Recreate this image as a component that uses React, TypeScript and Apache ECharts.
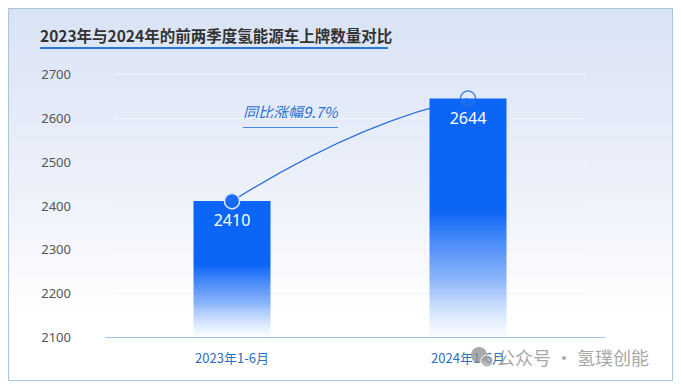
import React, { useEffect, useRef } from "react";
import * as echarts from "echarts";

const categories = ["2023年1-6月", "2024年1-6月"];
const values = [2410, 2644];
const yTicks = { min: 2100, max: 2700, interval: 100 };
const titleText = "2023年与2024年的前两季度氢能源车上牌数量对比";
const growthText = "同比涨幅9.7%";
const watermarkText = "公众号 · 氢璞创能";

const BLUE = "#0b65f6";
const FONT = "'Noto Sans CJK SC', 'Noto Sans', sans-serif";

export default function App() {
  const ref = useRef<HTMLDivElement>(null);
  useEffect(() => {
    if (!ref.current) return;
    const chart = echarts.init(ref.current, null, { renderer: "svg" });
    chart.setOption({
      animation: false,
      textStyle: { fontFamily: FONT },
      grid: { left: 114, right: 95, top: 74, bottom: 51 },
      xAxis: {
        type: "category",
        data: categories,
        axisLine: { show: false },
        axisTick: { show: false },
        axisLabel: { color: "#2f6dbf", fontSize: 13, margin: 14, fontFamily: FONT },
      },
      yAxis: {
        type: "value",
        min: yTicks.min,
        max: yTicks.max,
        interval: yTicks.interval,
        axisLine: { show: false },
        axisTick: { show: false },
        axisLabel: {
          color: "#555",
          fontSize: 13,
          margin: 43,
          fontFamily: "'Noto Sans', sans-serif",
          formatter: (v: number) => String(v),
        },
        splitLine: { lineStyle: { color: "rgba(240,244,250,1)", width: 1 } },
      },
      graphic: [
        {
          type: "rect",
          z: -10,
          shape: { x: 8.5, y: 8.5, width: 664, height: 372 },
          style: {
            fill: new echarts.graphic.LinearGradient(0, 0, 0, 1, [
              { offset: 0, color: "#d9e3f5" },
              { offset: 0.5, color: "#edf1fa" },
              { offset: 0.82, color: "#ffffff" },
              { offset: 1, color: "#ffffff" },
            ]),
            stroke: "#a9c6df",
            lineWidth: 1,
          },
        },
        {
          type: "text",
          x: 40,
          y: 35,
          style: {
            text: titleText,
            fill: "#333",
            fontSize: 15.5,
            fontWeight: "bold",
            fontFamily: FONT,
            verticalAlign: "middle",
          },
        },
        {
          type: "line",
          shape: { x1: 40, y1: 48, x2: 388, y2: 48 },
          style: { stroke: "#2a78d6", lineWidth: 2 },
        },
        {
          type: "line",
          z: 10,
          shape: { x1: 105, y1: 337.5, x2: 605, y2: 337.5 },
          style: { stroke: "#9fc3e3", lineWidth: 1 },
        },
        {
          type: "text",
          x: 243,
          y: 111,
          style: {
            text: growthText,
            fill: "#2a6fd0",
            fontSize: 15,
            fontStyle: "italic",
            fontFamily: FONT,
            verticalAlign: "middle",
          },
        },
        {
          type: "line",
          shape: { x1: 243, y1: 127.5, x2: 338, y2: 127.5 },
          style: { stroke: "#4b8ae0", lineWidth: 1 },
        },
        {
          type: "circle",
          z: 20,
          shape: { cx: 479, cy: 355, r: 8 },
          style: { fill: "rgba(140,140,140,0.75)" },
        },
        {
          type: "circle",
          z: 20,
          shape: { cx: 487, cy: 361, r: 6 },
          style: { fill: "rgba(160,160,160,0.75)", stroke: "#fff", lineWidth: 1 },
        },
        {
          type: "text",
          z: 20,
          x: 497,
          y: 357,
          style: {
            text: watermarkText,
            fill: "#a8a8a8",
            fontSize: 18,
            fontFamily: FONT,
            verticalAlign: "middle",
          },
        },
      ],
      series: [
        {
          type: "custom",
          z: 1,
          data: [[0, values[0]]],
          renderItem: (params: any, api: any) => {
            const p0 = api.coord([0, values[0]]);
            const p1 = api.coord([1, values[1]]);
            return {
              type: "bezierCurve",
              shape: {
                x1: p0[0],
                y1: p0[1],
                x2: p1[0],
                y2: p1[1],
                cpx1: p0[0] + 0.54 * (p1[0] - p0[0]),
                cpy1: p0[1] + 0.78 * (p1[1] - p0[1]),
              },
              style: { stroke: "#2a6fd6", lineWidth: 1.3, fill: "none" },
            };
          },
        },
        {
          type: "bar",
          z: 2,
          data: values,
          barWidth: 77,
          itemStyle: {
            color: new echarts.graphic.LinearGradient(0, 0, 0, 1, [
              { offset: 0, color: BLUE },
              { offset: 0.47, color: BLUE },
              { offset: 0.75, color: "rgba(60,130,248,0.6)" },
              { offset: 1, color: "rgba(120,170,250,0.02)" },
            ]),
          },
          label: {
            show: true,
            position: "insideTop",
            distance: 11,
            color: "#fff",
            fontSize: 16,
            fontFamily: "'Noto Sans', sans-serif",
          },
        },
        {
          type: "scatter",
          z: 3,
          symbol: "circle",
          symbolSize: 15,
          data: [
            { value: values[0], itemStyle: { color: BLUE, borderColor: "#fff", borderWidth: 1.5, shadowColor: "#2a6fd6", shadowBlur: 1 } },
            { value: values[1], itemStyle: { color: "rgba(255,255,255,0.05)", borderColor: "#2a6fd6", borderWidth: 1.5 } },
          ],
        },
      ],
    });
    return () => chart.dispose();
  }, []);
  return <div ref={ref} style={{ width: 681, height: 388, position: "absolute", left: 0, top: 0 }} />;
}
